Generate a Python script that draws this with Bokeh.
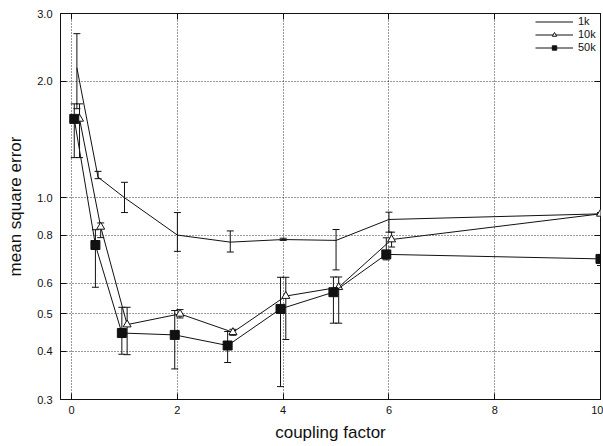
from bokeh.plotting import figure
from bokeh.models import (Range1d, FixedTicker, PrintfTickFormatter, Whisker, TeeHead,
                          ColumnDataSource, Legend, LegendItem, LinearAxis, LogAxis)
from bokeh.embed import file_html
from bokeh.resources import INLINE

# ---- data ----
x_1k = [0.1, 0.5, 1.0, 2.0, 3.0, 4.0, 5.0, 6.0, 10.0]
y_1k = [2.17, 1.13, 1.0, 0.80, 0.767, 0.779, 0.775, 0.878, 0.908]
lo_1k = [1.70, 1.12, 0.915, 0.726, 0.723, 0.775, 0.650, 0.814, 0.900]
hi_1k = [2.66, 1.17, 1.096, 0.915, 0.820, 0.785, 0.827, 0.917, 0.915]

x_10k = [0.15, 0.55, 1.05, 2.05, 3.05, 4.05, 5.05, 6.05, 10.0]
y_10k = [1.60, 0.84, 0.469, 0.500, 0.448, 0.556, 0.586, 0.779, 0.908]
lo_10k = [1.27, 0.788, 0.392, 0.488, 0.440, 0.429, 0.473, 0.745, 0.900]
hi_10k = [1.75, 0.860, 0.520, 0.513, 0.456, 0.622, 0.623, 0.814, 0.915]

x_50k = [0.05, 0.45, 0.95, 1.95, 2.95, 3.95, 4.95, 5.95, 10.0]
y_50k = [1.60, 0.754, 0.446, 0.441, 0.414, 0.515, 0.569, 0.713, 0.694]
lo_50k = [1.27, 0.586, 0.393, 0.360, 0.374, 0.324, 0.473, 0.690, 0.667]
hi_50k = [1.75, 0.826, 0.520, 0.510, 0.450, 0.622, 0.623, 0.787, 0.710]

x_ticks = [0, 2, 4, 6, 8, 10]
y_ticks = [0.3, 0.4, 0.5, 0.6, 0.8, 1.0, 2.0, 3.0]

FONT = "Liberation Sans"
INK = "#111111"

p = figure(width=603, height=446, y_axis_type="log",
           x_range=Range1d(-0.21, 10.0), y_range=Range1d(0.3, 3.0),
           output_backend="svg", toolbar_location=None,
           min_border_left=60, min_border_right=3, min_border_top=13, min_border_bottom=47)

p.background_fill_color = "white"
p.border_fill_color = "white"
p.outline_line_color = INK
p.outline_line_width = 1

# axes
p.xaxis.ticker = FixedTicker(ticks=x_ticks)
p.yaxis.ticker = FixedTicker(ticks=y_ticks)
p.yaxis.formatter = PrintfTickFormatter(format="%.1f")
for ax in (p.xaxis[0], p.yaxis[0]):
    ax.major_tick_in = 6
    ax.major_tick_out = 0
    ax.minor_tick_line_color = None
    ax.axis_line_color = INK
    ax.major_tick_line_color = INK
    ax.major_label_text_font = FONT
    ax.major_label_text_font_size = "11px"
    ax.major_label_text_color = INK
    ax.axis_label_text_font = FONT
    ax.axis_label_text_font_size = "17px"
    ax.axis_label_text_font_style = "normal"
    ax.axis_label_text_color = INK
p.xaxis.axis_label = "coupling factor"
p.yaxis.axis_label = "mean square error"
p.xaxis.major_label_standoff = 6
p.xaxis.axis_label_standoff = 6
p.yaxis.major_label_standoff = 8
p.yaxis.axis_label_standoff = 9

# mirrored ticks on top and right (tick marks only, no labels drawn)
top_ax = LinearAxis(ticker=FixedTicker(ticks=x_ticks), major_tick_in=6, major_tick_out=0,
                    minor_tick_line_color=None, major_label_text_font_size="1px",
                    major_label_text_color=None,
                    major_label_standoff=0, axis_line_color=None, major_tick_line_color=INK)
right_ax = LogAxis(ticker=FixedTicker(ticks=y_ticks), major_tick_in=6, major_tick_out=0,
                   minor_tick_line_color=None, major_label_text_font_size="1px",
                   major_label_text_color=None,
                   major_label_standoff=0, axis_line_color=None, major_tick_line_color=INK)
p.add_layout(top_ax, "above")
p.add_layout(right_ax, "right")

# grid
for g in (p.xgrid[0], p.ygrid[0]):
    g.grid_line_color = INK
    g.grid_line_alpha = 0.85
    g.grid_line_dash = "1 2"
    g.grid_line_width = 1

def series(xs, ys, lo, hi, marker, fill, size):
    src = ColumnDataSource(dict(x=xs, y=ys, lo=lo, hi=hi))
    w = Whisker(source=src, base="x", lower="lo", upper="hi", dimension="height",
                line_color=INK, line_width=1,
                upper_head=TeeHead(size=7, line_color=INK, line_width=1),
                lower_head=TeeHead(size=7, line_color=INK, line_width=1))
    p.add_layout(w)
    rs = [p.line("x", "y", source=src, line_color=INK, line_width=1)]
    if marker is not None:
        rs.append(p.scatter("x", "y", source=src, marker=marker, size=size,
                            line_color=INK, line_width=1, fill_color=fill))
    return rs

r1 = series(x_1k, y_1k, lo_1k, hi_1k, None, None, 0)
r2 = series(x_10k, y_10k, lo_10k, hi_10k, "triangle", "white", 8)
r3 = series(x_50k, y_50k, lo_50k, hi_50k, "square", INK, 9)

legend = Legend(items=[LegendItem(label="1k", renderers=r1),
                       LegendItem(label="10k", renderers=r2),
                       LegendItem(label="50k", renderers=r3)],
                location="top_right")
legend.background_fill_alpha = 0
legend.border_line_color = None
legend.label_text_font = FONT
legend.label_text_font_size = "11px"
legend.label_text_color = INK
legend.glyph_width = 38
legend.glyph_height = 11
legend.label_height = 11
legend.spacing = 1
legend.padding = 3
legend.margin = 2
p.add_layout(legend)

open("out.html", "w").write(file_html(p, INLINE))
